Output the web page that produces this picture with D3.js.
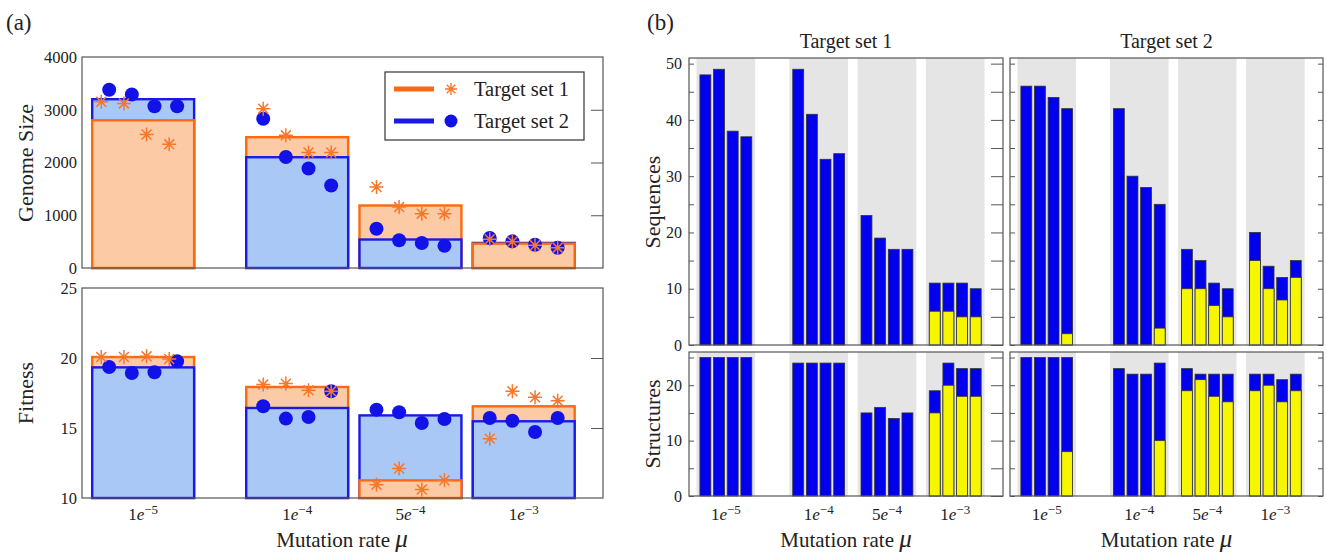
<!DOCTYPE html>
<html>
<head>
<meta charset="utf-8">
<script src="https://cdn.jsdelivr.net/npm/d3@7"></script>
<style>
  body { margin: 0; background: #fff; }
  text { font-family: "Liberation Serif", "Times New Roman", serif; fill: #222; }
</style>
</head>
<body>
<svg id="chart" width="1327" height="554"></svg>
<script>
// ---- data ----
const rateMant = ["1", "1", "5", "1"];
const rateExp = ["\u22125", "\u22124", "\u22124", "\u22123"];
const ratePos = [0, 1.36, 2.36, 3.36];   // where each rate sits on the x axis
const starShift = [-0.07, 0, 0, 0];      // target set 1 markers sit a bit left at 1e-5

// (a) genome size: bar = mean, points = 4 replicates
const genomeBar1 = [2800, 2480, 1185, 462];
const genomeBar2 = [3200, 2100, 540, 475];
const genomePts1 = [[3150, 3120, 2530, 2345], [3020, 2515, 2190, 2190], [1535, 1155, 1030, 1030], [545, 500, 430, 385]];
const genomePts2 = [[3380, 3290, 3065, 3065], [2830, 2105, 1885, 1565], [745, 525, 475, 420], [570, 505, 440, 385]];

// (a) fitness
const fitBar1 = [20.07, 17.93, 11.26, 16.55];
const fitBar2 = [19.33, 16.43, 15.9, 15.48];
const fitPts1 = [[20.07, 20.07, 20.12, 19.93], [18.1, 18.17, 17.69, 17.62], [10.95, 12.1, 10.6, 11.26], [14.24, 17.62, 17.19, 16.95]];
const fitPts2 = [[19.36, 18.93, 18.98, 19.76], [16.55, 15.67, 15.79, 17.62], [16.31, 16.12, 15.36, 15.64], [15.71, 15.52, 14.71, 15.71]];

// (b) counts per replicate: total (blue) and yellow part
const seqTotal1 = [[48, 49, 38, 37], [49, 41, 33, 34], [23, 19, 17, 17], [11, 11, 11, 10]];
const seqYellow1 = [[0, 0, 0, 0], [0, 0, 0, 0], [0, 0, 0, 0], [6, 6, 5, 5]];
const seqTotal2 = [[46, 46, 44, 42], [42, 30, 28, 25], [17, 15, 11, 10], [20, 14, 12, 15]];
const seqYellow2 = [[0, 0, 0, 2], [0, 0, 0, 3], [10, 10, 7, 5], [15, 10, 8, 12]];
const strTotal1 = [[25, 25, 25, 25], [24, 24, 24, 24], [15, 16, 14, 15], [19, 24, 23, 23]];
const strYellow1 = [[0, 0, 0, 0], [0, 0, 0, 0], [0, 0, 0, 0], [15, 20, 18, 18]];
const strTotal2 = [[25, 25, 25, 25], [23, 22, 22, 24], [23, 22, 22, 22], [22, 22, 21, 22]];
const strYellow2 = [[0, 0, 0, 8], [0, 0, 0, 10], [19, 21, 18, 17], [19, 20, 17, 19]];

const genomeTicks = [0, 1000, 2000, 3000, 4000];
const fitTicks = [10, 15, 20, 25];
const seqTicks = [0, 10, 20, 30, 40, 50];
const strTicks = [0, 10, 20];

// ---- style ----
const orangeEdge = "#fb6a12", orangeFill = "#fdcaa6";
const blueEdge = "#1a1ae4", blueFill = "#a9c8f6";
const dotColor = "#1212e8", starColor = "#f7772a";
const barBlue = "#0000ee", barYellow = "#f6f600", bandGrey = "#e5e5e5";
const frameColor = "#555";
const repOffset = [-0.3, -0.1, 0.1, 0.3];

const svg = d3.select("#chart");

function rateLabel(sel) {
  sel.each(function (d, i) {
    const t = d3.select(this);
    t.append("tspan").text(rateMant[i]);
    t.append("tspan").attr("font-style", "italic").text("e");
    t.append("tspan").attr("dy", -6).attr("font-size", "13px").text(rateExp[i]);
  });
}

function starPath(r) {
  const d = r * Math.SQRT1_2;
  return `M${-r},0L${r},0M0,${-r}L0,${r}M${-d},${-d}L${d},${d}M${-d},${d}L${d},${-d}`;
}

// ================= panel (a) =================
const xa = d3.scaleLinear().domain([-0.54, 4.06]).range([82, 603]);
const barW = xa(0.9) - xa(0);

function meanPanel(y, bar1, bar2, pts1, pts2, ticks) {
  const [y0] = y.domain();
  const g = svg.append("g");
  const bars = ratePos.flatMap((p, i) => [
    { i, v: bar1[i], edge: orangeEdge, fill: orangeFill },
    { i, v: bar2[i], edge: blueEdge, fill: blueFill }
  ]).sort((a, b) => b.v - a.v);

  g.selectAll(".mbar")
    .data(bars)
    .enter()
    .append("rect")
    .attr("x", d => xa(ratePos[d.i]) - barW / 2)
    .attr("y", d => y(d.v))
    .attr("width", barW)
    .attr("height", d => y(y0) - y(d.v))
    .attr("fill", d => d.fill)
    .attr("stroke", d => d.edge)
    .attr("stroke-width", 2.4);

  const dots = pts2.flatMap((arr, i) => arr.map((v, k) => ({ i, k, v })));
  const stars = pts1.flatMap((arr, i) => arr.map((v, k) => ({ i, k, v })));

  g.selectAll(".dot")
    .data(dots)
    .enter()
    .append("circle")
    .attr("cx", d => xa(ratePos[d.i] + repOffset[d.k]))
    .attr("cy", d => y(d.v))
    .attr("r", 7)
    .attr("fill", dotColor);

  g.selectAll(".star")
    .data(stars)
    .enter()
    .append("path")
    .attr("transform", d => `translate(${xa(ratePos[d.i] + repOffset[d.k] + starShift[d.i])},${y(d.v)})`)
    .attr("d", starPath(7))
    .attr("stroke", starColor)
    .attr("stroke-width", 1.5)
    .attr("fill", "none");

  const [r0, r1] = y.range();
  g.append("rect")
    .attr("x", xa.range()[0]).attr("y", r1)
    .attr("width", xa.range()[1] - xa.range()[0]).attr("height", r0 - r1)
    .attr("fill", "none").attr("stroke", frameColor).attr("stroke-width", 1.2);

  const ax = g.append("g")
    .attr("transform", `translate(${xa.range()[0]},0)`)
    .call(d3.axisLeft(y).tickValues(ticks).tickSize(0).tickPadding(5).tickFormat(d3.format("d")));
  ax.select(".domain").remove();
  ax.selectAll("text").attr("font-size", "16.5px").attr("font-family", "Liberation Serif");

  const rt = g.append("g")
    .attr("transform", `translate(${xa.range()[1]},0)`)
    .call(d3.axisLeft(y).tickValues(ticks.slice(1, -1)).tickSize(12).tickFormat(""));
  rt.select(".domain").remove();
  rt.selectAll("line").attr("stroke", frameColor);
  return g;
}

const yGen = d3.scaleLinear().domain([0, 4000]).range([268, 57]);
const yFit = d3.scaleLinear().domain([10, 25]).range([498, 288]);
meanPanel(yGen, genomeBar1, genomeBar2, genomePts1, genomePts2, genomeTicks);
meanPanel(yFit, fitBar1, fitBar2, fitPts1, fitPts2, fitTicks);

// legend
const leg = svg.append("g");
leg.append("rect").attr("x", 385).attr("y", 72).attr("width", 199).attr("height", 68)
  .attr("fill", "#fff").attr("stroke", "#333").attr("stroke-width", 1.2);
[{ name: "Target set 1", c: orangeEdge, y: 89, star: true },
 { name: "Target set 2", c: blueEdge, y: 121, star: false }].forEach(it => {
  leg.append("line").attr("x1", 394).attr("x2", 434).attr("y1", it.y).attr("y2", it.y)
    .attr("stroke", it.c).attr("stroke-width", 5);
  if (it.star) {
    leg.append("path").attr("transform", `translate(451,${it.y})`).attr("d", starPath(6))
      .attr("stroke", starColor).attr("stroke-width", 1.4).attr("fill", "none");
  } else {
    leg.append("circle").attr("cx", 451).attr("cy", it.y).attr("r", 6.5).attr("fill", dotColor);
  }
  leg.append("text").attr("x", 474).attr("y", it.y + 7).attr("font-size", "20.5px").text(it.name);
});

svg.append("g").selectAll("text")
  .data(ratePos)
  .enter()
  .append("text")
  .attr("x", d => xa(d))
  .attr("y", 520)
  .attr("text-anchor", "middle")
  .attr("font-size", "17px")
  .call(rateLabel);

svg.append("text").attr("transform", "translate(33,163) rotate(-90)")
  .attr("text-anchor", "middle").attr("font-size", "22px").text("Genome Size");
svg.append("text").attr("transform", "translate(33,393) rotate(-90)")
  .attr("text-anchor", "middle").attr("font-size", "22px").text("Fitness");
svg.append("text").attr("x", 342).attr("y", 547).attr("text-anchor", "middle")
  .attr("font-size", "21px").html("Mutation rate <tspan font-style='italic' font-size='25px'>\u03bc</tspan>");
svg.append("text").attr("x", 6).attr("y", 30).attr("font-size", "23px").text("(a)");

// ================= panel (b) =================
svg.append("text").attr("x", 647).attr("y", 30).attr("font-size", "23px").text("(b)");

const subX = [[689, 1003], [1010, 1323]];
const ySeq = d3.scaleLinear().domain([0, 51]).range([345, 58]);
const yStr = d3.scaleLinear().domain([0, 26]).range([496, 352]);
const bandW = 0.86, cBarW = 0.16;

function countPanel(xr, y, total, yellow, tickVals, showLabels, rightTick) {
  const x = d3.scaleLinear().domain([-0.54, 4.06]).range(xr);
  const [r0, r1] = y.range();
  const g = svg.append("g");

  g.selectAll(".band")
    .data(ratePos)
    .enter()
    .append("rect")
    .attr("x", d => x(d - bandW / 2))
    .attr("y", r1)
    .attr("width", x(bandW) - x(0))
    .attr("height", r0 - r1)
    .attr("fill", bandGrey);

  const reps = total.flatMap((arr, i) => arr.map((v, k) => ({ i, k, v, yel: yellow[i][k] })));
  const w = x(cBarW) - x(0);

  g.selectAll(".tot")
    .data(reps)
    .enter()
    .append("rect")
    .attr("x", d => x(ratePos[d.i] + repOffset[d.k]) - w / 2)
    .attr("y", d => y(d.v))
    .attr("width", w)
    .attr("height", d => y(0) - y(d.v))
    .attr("fill", barBlue)
    .attr("stroke", "#333")
    .attr("stroke-width", 0.8);

  g.selectAll(".yel")
    .data(reps.filter(d => d.yel > 0))
    .enter()
    .append("rect")
    .attr("x", d => x(ratePos[d.i] + repOffset[d.k]) - w / 2)
    .attr("y", d => y(d.yel))
    .attr("width", w)
    .attr("height", d => y(0) - y(d.yel))
    .attr("fill", barYellow)
    .attr("stroke", "#333")
    .attr("stroke-width", 0.8);

  g.append("rect")
    .attr("x", xr[0]).attr("y", r1)
    .attr("width", xr[1] - xr[0]).attr("height", r0 - r1)
    .attr("fill", "none").attr("stroke", frameColor).attr("stroke-width", 1.2);

  const minor = d3.range(0, y.domain()[1] + 0.01, 5);
  const lt = g.append("g")
    .attr("transform", `translate(${xr[0]},0)`)
    .call(d3.axisRight(y).tickValues(minor).tickSize(5).tickFormat(""));
  lt.select(".domain").remove();
  lt.selectAll("line").attr("stroke", frameColor);

  const rt = g.append("g")
    .attr("transform", `translate(${xr[1]},0)`)
    .call(d3.axisLeft(y).tickValues(minor).tickSize(rightTick).tickFormat(""));
  rt.select(".domain").remove();
  rt.selectAll("line").attr("stroke", frameColor);

  if (showLabels) {
    const ax = g.append("g")
      .attr("transform", `translate(${xr[0]},0)`)
      .call(d3.axisLeft(y).tickValues(tickVals).tickSize(0).tickPadding(7));
    ax.select(".domain").remove();
    ax.selectAll("text").attr("font-size", "16px").attr("font-family", "Liberation Serif");
  }
  return x;
}

countPanel(subX[0], ySeq, seqTotal1, seqYellow1, seqTicks, true, 12);
countPanel(subX[1], ySeq, seqTotal2, seqYellow2, seqTicks, false, 5);
const xb1 = countPanel(subX[0], yStr, strTotal1, strYellow1, strTicks, true, 12);
const xb2 = countPanel(subX[1], yStr, strTotal2, strYellow2, strTicks, false, 5);

[xb1, xb2].forEach((x, j) => {
  svg.append("g").selectAll("text")
    .data(ratePos)
    .enter()
    .append("text")
    .attr("x", d => x(d))
    .attr("y", 520)
    .attr("text-anchor", "middle")
    .attr("font-size", "17px")
    .call(rateLabel);

  const cx = (subX[j][0] + subX[j][1]) / 2;
  svg.append("text").attr("x", cx).attr("y", 547).attr("text-anchor", "middle")
    .attr("font-size", "21px").html("Mutation rate <tspan font-style='italic' font-size='25px'>\u03bc</tspan>");
  svg.append("text").attr("x", cx).attr("y", 48).attr("text-anchor", "middle")
    .attr("font-size", "20px").text("Target set " + (j + 1));
});

svg.append("text").attr("transform", "translate(660,202) rotate(-90)")
  .attr("text-anchor", "middle").attr("font-size", "22px").text("Sequences");
svg.append("text").attr("transform", "translate(660,424) rotate(-90)")
  .attr("text-anchor", "middle").attr("font-size", "22px").text("Structures");
</script>
</body>
</html>
